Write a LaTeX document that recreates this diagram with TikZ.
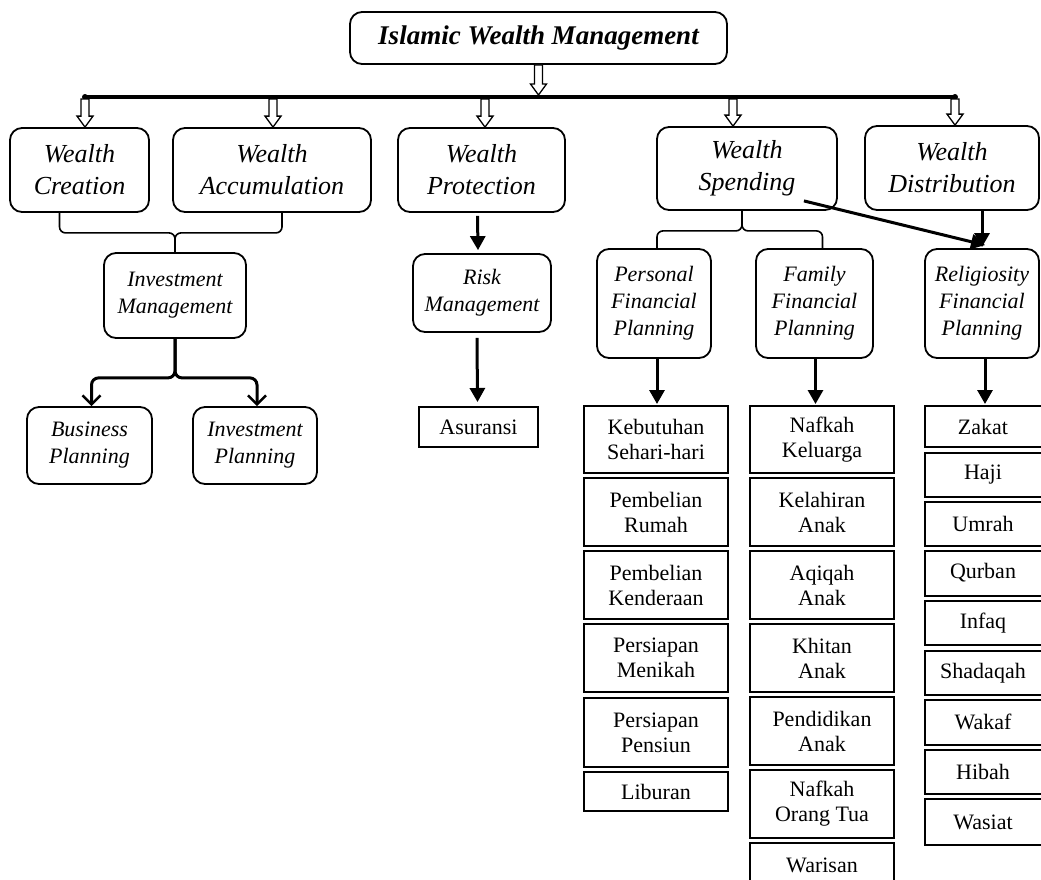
\documentclass[tikz,border=0pt]{standalone}
\usepackage{fontspec}
\setmainfont{Liberation Serif}
\usetikzlibrary{arrows.meta,calc}
\newcommand\hollowarr[2]{%
  \draw[hollowarrow] let \p1=(#1), \p2=(#2) in
    (\x1-4pt,\y1) -- (\x1-4pt,\y2+11pt) -- (\x1-8pt,\y2+11pt) -- (\x1,\y2)
    -- (\x1+8pt,\y2+11pt) -- (\x1+4pt,\y2+11pt) -- (\x1+4pt,\y1) -- cycle;}
% style, x1, y1, x2, y2, name, text
\newcommand\bx[7]{%
  \node[#1, minimum width={#4-#2}, minimum height={#5-#3}] (#6)
    at ({(#2+#4)/2},{(#3+#5)/2}) {#7};}
\begin{document}
\begin{tikzpicture}[x=1pt,y=-1pt,
  rbox/.style={draw, line width=1.8pt, rounded corners=12pt, inner sep=0pt, align=center},
  sbox/.style={draw, line width=2pt, inner sep=0pt, align=center, font=\fontsize{22}{25}\selectfont},
  titlebox/.style={rbox, font=\bfseries\itshape\fontsize{27}{30}\selectfont},
  lvone/.style={rbox, font=\itshape\fontsize{26}{32}\selectfont},
  lvtwo/.style={rbox, font=\itshape\fontsize{22}{27}\selectfont},
  thickarrow/.style={line width=3pt, -{Triangle[length=14pt,width=15pt]}},
  barbarrow/.style={line width=3pt, rounded corners=7pt, -{Straight Barb[length=9pt,width=18pt,line width=2.5pt]}},
  hollowarrow/.style={draw, fill=white, line width=1.3pt, line join=miter},
  brace/.style={line width=1.6pt, rounded corners=6pt},
  plain/.style={font=\fontsize{22}{25}\selectfont},
]
\useasboundingbox (0,0) rectangle (1041,879);
\fill[white] (0,0) rectangle (1041,879);

% title
\bx{titlebox}{350}{12}{727}{64}{tt}{\raisebox{-2pt}{Islamic Wealth Management}}

% level 1
\bx{lvone}{10}{128}{149}{212}{wc}{Wealth\\Creation}
\bx{lvone}{173}{128}{371}{212}{wa}{Wealth\\Accumulation}
\bx{lvone}{398}{128}{565}{212}{wp}{Wealth\\Protection}
\bx{lvone}{657}{127}{837}{210}{ws}{Wealth\\Spending}
\bx{lvone}{865}{126}{1039}{210}{wd}{Wealth\\Distribution}

% level 2
\bx{lvtwo}{104}{253}{246}{338}{im}{Investment\\Management}
\bx{lvtwo}{413}{254}{551}{332}{rm}{Risk\\Management}
\bx{lvtwo}{597}{249}{711}{358}{pf}{Personal\\Financial\\Planning}
\bx{lvtwo}{756}{249}{873}{358}{ff}{Family\\Financial\\Planning}
\bx{lvtwo}{925}{249}{1039}{358}{rf}{Religiosity\\Financial\\Planning}

% level 3
\bx{lvtwo}{27}{407}{152}{484}{bp}{Business\\Planning}
\bx{lvtwo}{193}{407}{317}{484}{ip}{Investment\\Planning}
\bx{sbox}{419}{407}{538}{447}{as}{Asuransi}

% personal column
\bx{sbox}{584}{406}{728}{473}{p1}{Kebutuhan\\Sehari-hari}
\bx{sbox}{584}{478}{728}{546}{p2}{Pembelian\\Rumah}
\bx{sbox}{584}{551}{728}{619}{p3}{Pembelian\\Kenderaan}
\bx{sbox}{584}{624}{728}{692}{p4}{Persiapan\\Menikah}
\bx{sbox}{584}{698}{728}{767}{p5}{Persiapan\\Pensiun}
\bx{sbox}{584}{772}{728}{811}{p6}{Liburan}

% family column
\bx{sbox}{750}{406}{894}{473}{f1}{Nafkah\\Keluarga}
\bx{sbox}{750}{478}{894}{546}{f2}{Kelahiran\\Anak}
\bx{sbox}{750}{551}{894}{619}{f3}{Aqiqah\\Anak}
\bx{sbox}{750}{624}{894}{692}{f4}{Khitan\\Anak}
\bx{sbox}{750}{697}{894}{765}{f5}{Pendidikan\\Anak}
\bx{sbox}{750}{770}{894}{838}{f6}{Nafkah\\Orang Tua}
\bx{sbox}{750}{843}{894}{889}{f7}{}
\node[plain] (f7t) at (822,865) {Warisan};

% religiosity column (right edge beyond the page)
\bx{sbox}{925}{406}{1046}{447}{r1}{}
\bx{sbox}{925}{453}{1046}{497}{r2}{}
\bx{sbox}{925}{502}{1046}{546}{r3}{}
\bx{sbox}{925}{551}{1046}{596}{r4}{}
\bx{sbox}{925}{601}{1046}{645}{r5}{}
\bx{sbox}{925}{651}{1046}{695}{r6}{}
\bx{sbox}{925}{700}{1046}{745}{r7}{}
\bx{sbox}{925}{750}{1046}{794}{r8}{}
\bx{sbox}{925}{799}{1046}{845}{r9}{}
\node[plain] (r1t) at (983,427) {Zakat};
\node[plain] (r2t) at (983,475) {Haji};
\node[plain] (r3t) at (983,524) {Umrah};
\node[plain] (r4t) at (983,573) {Qurban};
\node[plain] (r5t) at (983,623) {Infaq};
\node[plain] (r6t) at (983,673) {Shadaqah};
\node[plain] (r7t) at (983,722) {Wakaf};
\node[plain] (r8t) at (983,772) {Hibah};
\node[plain] (r9t) at (983,822) {Wasiat};

% bus
\coordinate (busL) at (85,97);
\coordinate (busR) at (955,97);
\draw[line width=4pt] (busL) -- (busR);
\fill (busL) circle (3pt);
\fill (busR) circle (3pt);
\coordinate (b1) at (85,99);
\coordinate (b2) at (273,99);
\coordinate (b3) at (485,99);
\coordinate (b4) at (733,99);
\coordinate (b5) at (955,99);

% hollow arrows
\hollowarr{tt.south}{tt.south |- 0,95}
\hollowarr{b1}{b1 |- wc.north}
\hollowarr{b2}{b2 |- wa.north}
\hollowarr{b3}{b3 |- wp.north}
\hollowarr{b4}{b4 |- ws.north}
\hollowarr{b5}{b5 |- wd.north}

% braces
\draw[brace] ([xshift=-20pt]wc.south) -- ++(0,20) -| (im.north);
\draw[brace] ([xshift=10pt]wa.south) -- ++(0,20) -| (im.north);
\draw[brace] ([xshift=-5pt]ws.south) -- ++(0,20) -| ([xshift=3pt]pf.north);
\draw[brace] ([xshift=-5pt]ws.south) -- ++(0,20) -| ([xshift=8pt]ff.north);

% investment split
\draw[barbarrow] (im.south) -- ++(0,39) -| ([xshift=2pt]bp.north);
\draw[barbarrow] (im.south) -- ++(0,39) -| ([xshift=2pt]ip.north);

% thick arrows
\draw[thickarrow] ([xshift=-4pt,yshift=-3pt]wp.south) -- ([xshift=-4pt,yshift=3pt]rm.north);
\draw[thickarrow] ([xshift=-5pt,yshift=-5pt]rm.south) -- ([xshift=-1pt,yshift=4pt]as.north);
\draw[thickarrow] ([xshift=3pt]pf.south) -- ([xshift=3pt,yshift=1pt]pf.south |- p1.north);
\draw[thickarrow] ([xshift=1pt]ff.south) -- ([xshift=1pt,yshift=1pt]ff.south |- f1.north);
\draw[thickarrow] ([xshift=3pt]rf.south) -- ([xshift=3pt,yshift=1pt]rf.south |- r1.north);
\draw[thickarrow] (rf.north |- wd.south) -- ([yshift=1pt]rf.north);
\draw[thickarrow] ($(ws.south east)+(-34,-10)$) -- ([xshift=3pt,yshift=3pt]rf.north);
\end{tikzpicture}
\end{document}
